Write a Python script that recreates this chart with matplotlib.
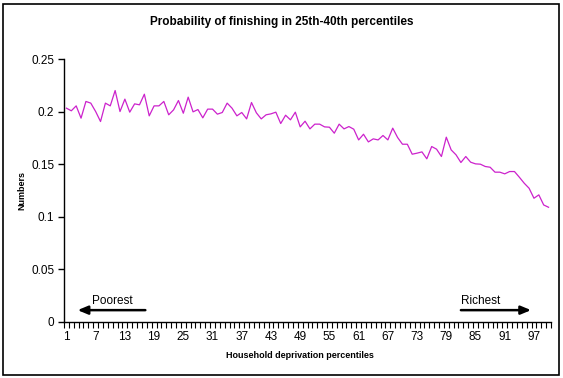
import matplotlib
matplotlib.use("Agg")
import matplotlib.pyplot as plt
from matplotlib.patches import Rectangle

plt.rcParams['font.family'] = ['Liberation Sans', 'DejaVu Sans']

percentiles = list(range(1, 101))
probability = [
    0.2032, 0.2007, 0.2054, 0.1937, 0.2096, 0.2080, 0.2000, 0.1905, 0.2080, 0.2054,
    0.2200, 0.2000, 0.2118, 0.1994, 0.2073, 0.2064, 0.2165, 0.1959, 0.2054, 0.2054,
    0.2096, 0.1969, 0.2016, 0.2105, 0.1984, 0.2137, 0.1997, 0.2019, 0.1940, 0.2023,
    0.2023, 0.1975, 0.1991, 0.2080, 0.2032, 0.1959, 0.1991, 0.1930, 0.2086, 0.1988,
    0.1930, 0.1969, 0.1978, 0.1994, 0.1886, 0.1965, 0.1921, 0.1994, 0.1854, 0.1908,
    0.1835, 0.1880, 0.1880, 0.1854, 0.1851, 0.1794, 0.1880, 0.1835, 0.1857, 0.1832,
    0.1730, 0.1784, 0.1711, 0.1740, 0.1730, 0.1772, 0.1730, 0.1842, 0.1753, 0.1689,
    0.1689, 0.1594, 0.1604, 0.1616, 0.1550, 0.1667, 0.1642, 0.1572, 0.1756, 0.1635,
    0.1588, 0.1515, 0.1572, 0.1518, 0.1502, 0.1499, 0.1477, 0.1470, 0.1423, 0.1423,
    0.1407, 0.1429, 0.1429, 0.1375, 0.1318, 0.1270, 0.1175, 0.1207, 0.1111, 0.1089,
]
x_tick_labels = [str(v) for v in range(1, 101, 6)]
y_ticks = [0, 0.05, 0.1, 0.15, 0.2, 0.25]
y_tick_labels = ['0', '0.05', '0.1', '0.15', '0.2', '0.25']

title = 'Probability of finishing in 25th-40th percentiles'
x_label = 'Household deprivation percentiles'
y_label = 'Numbers'

W, H = 563, 378
fig = plt.figure(figsize=(W / 100, H / 100), dpi=100)
fig.patch.set_facecolor('white')

# outer chart border
fig.add_artist(Rectangle((3 / W, 3 / H), (W - 7) / W, (H - 7) / H,
                         transform=fig.transFigure, fill=False,
                         edgecolor='black', linewidth=1.2))

left, right = 64 / W, 551 / W
bottom, top = 1 - 321.7 / H, 1 - 59 / H
ax = fig.add_axes([left, bottom, right - left, top - bottom])

ax.plot(percentiles, probability, color='#CC22CC', linewidth=0.9)

ax.set_xlim(0.5, 100.5)
ax.set_ylim(0, 0.25)

ax.spines['top'].set_visible(False)
ax.spines['right'].set_visible(False)
for s in ('left', 'bottom'):
    ax.spines[s].set_linewidth(1.0)
    ax.spines[s].set_color('black')

ax.set_yticks(y_ticks)
ax.set_yticklabels(y_tick_labels, fontsize=8.5)
ax.tick_params(axis='y', direction='out', length=4, width=1, pad=3)

# category axis: tick marks between categories, labels every 6th category
ax.set_xticks([i + 0.5 for i in range(0, 101)], minor=True)
ax.set_xticks(list(range(1, 101, 6)))
ax.set_xticklabels(x_tick_labels, fontsize=8.5)
ax.tick_params(axis='x', which='major', length=0, pad=7)
ax.tick_params(axis='x', which='minor', direction='out', length=4, width=0.8)

fig.text(0.5, 1 - 22 / H, title, ha='center', va='center',
         fontsize=8.5, fontweight='bold')
fig.text(300 / W, 1 - 355 / H, x_label, ha='center', va='center',
         fontsize=6.5, fontweight='bold')
fig.text(22 / W, 1 - 190 / H, y_label, ha='center', va='center',
         fontsize=6.5, fontweight='bold', rotation=90)

# direction arrows
ax.annotate('', xy=(3.3, 0.011), xytext=(17.2, 0.011),
            arrowprops=dict(arrowstyle='-|>,head_length=0.6,head_width=0.25',
                            color='black', linewidth=1.8, shrinkA=0, shrinkB=0))
ax.text(10.4, 0.0195, 'Poorest', ha='center', va='center', fontsize=8.5)
ax.annotate('', xy=(96.4, 0.011), xytext=(82.0, 0.011),
            arrowprops=dict(arrowstyle='-|>,head_length=0.6,head_width=0.25',
                            color='black', linewidth=1.8, shrinkA=0, shrinkB=0))
ax.text(86.0, 0.0195, 'Richest', ha='center', va='center', fontsize=8.5)

fig.savefig('out.png', dpi=100)
